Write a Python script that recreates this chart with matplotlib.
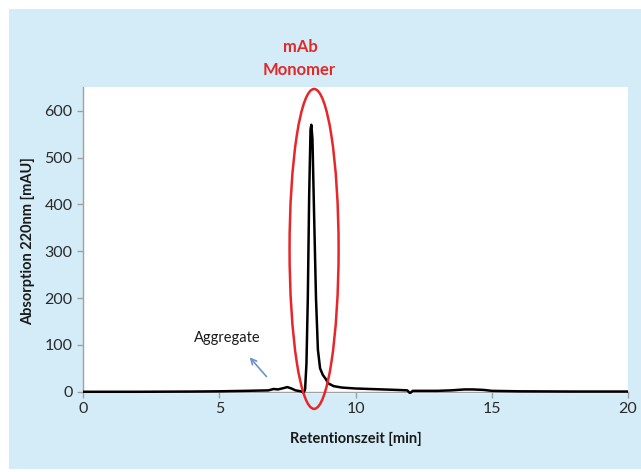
import matplotlib
matplotlib.use("Agg")
import matplotlib.pyplot as plt
from matplotlib.patches import Ellipse, Rectangle

# Chromatogram
time_min = [0, 2, 4, 5, 6, 6.8, 7.0, 7.15, 7.3, 7.5, 7.65, 7.8, 8.0, 8.1, 8.15,
            8.2, 8.25, 8.3, 8.35, 8.38, 8.42, 8.48, 8.55, 8.62, 8.7, 8.8, 8.9,
            9.0, 9.2, 9.5, 10, 10.5, 11, 11.5, 11.9, 12.0, 12.1, 12.5, 13, 13.5,
            14, 14.3, 14.7, 15, 16, 18, 20]
absorb_mau = [0, 0, 0.5, 1, 2, 3, 6, 5, 7, 10, 7, 3, 1, -2, 5,
              60, 200, 420, 560, 570, 540, 380, 200, 90, 50, 36, 28,
              18, 12, 9, 7, 6, 5, 4, 3, -3, 2, 2, 2, 3,
              5, 5, 4, 2, 1, 0.5, 0.5]

x_ticks = [0, 5, 10, 15, 20]
y_ticks = [0, 100, 200, 300, 400, 500, 600]

FONT = ["Lato", "DejaVu Sans"]
plt.rcParams["font.family"] = FONT

fig = plt.figure(figsize=(6.41, 4.72), dpi=100)
fig.patch.set_facecolor("white")
fig.patches.append(Rectangle((9/641, 3/472), 1 - 9/641, (463 - 3)/472,
                             transform=fig.transFigure, facecolor="#d3ecf8",
                             edgecolor="none", zorder=-10))

ax = fig.add_axes([83/641, 0.165, (628 - 83)/641, 0.650])
ax.set_facecolor("white")
ax.plot(time_min, absorb_mau, color="black", lw=1.8, zorder=3)

ax.set_xlim(0, 20)
ax.set_ylim(-5, 650)
ax.set_xticks(x_ticks)
ax.set_yticks(y_ticks)
for s in ["top", "right"]:
    ax.spines[s].set_visible(False)
ax.spines["bottom"].set_position(("data", 0))
ax.spines["left"].set_bounds(0, 650)
for s in ["left", "bottom"]:
    ax.spines[s].set_color("#a0a0a0")
    ax.spines[s].set_linewidth(1.0)
ax.tick_params(axis="both", colors="#a0a0a0", labelcolor="#2a2a2a",
               labelsize=11.5, length=4, width=1, direction="out")

ax.set_xlabel("Retentionszeit [min]", fontsize=10.5, fontweight="bold",
              color="#1a1a1a", labelpad=11)
ax.set_ylabel("Absorption 220nm [mAU]", fontsize=10.5, fontweight="bold",
              color="#1a1a1a", labelpad=7)

ell = Ellipse((8.48, 305), width=1.8, height=683, fill=False,
              edgecolor="#e8262a", lw=1.8, clip_on=False, zorder=4)
ax.add_patch(ell)

fig.text(300/641, 1 - 47/472, "mAb", color="#e02a2a", fontsize=12,
         fontweight="bold", ha="center", va="center")
fig.text(299/641, 1 - 70/472, "Monomer", color="#e02a2a", fontsize=12,
         fontweight="bold", ha="center", va="center")

ax.text(5.28, 114, "Aggregate", fontsize=10.5, color="#1a1a1a",
        ha="center", va="center")
ax.annotate("", xy=(6.05, 78), xytext=(6.8, 28),
            arrowprops=dict(arrowstyle="->", color="#6a93c8", lw=1.2))

fig.savefig("out.png", dpi=100)
